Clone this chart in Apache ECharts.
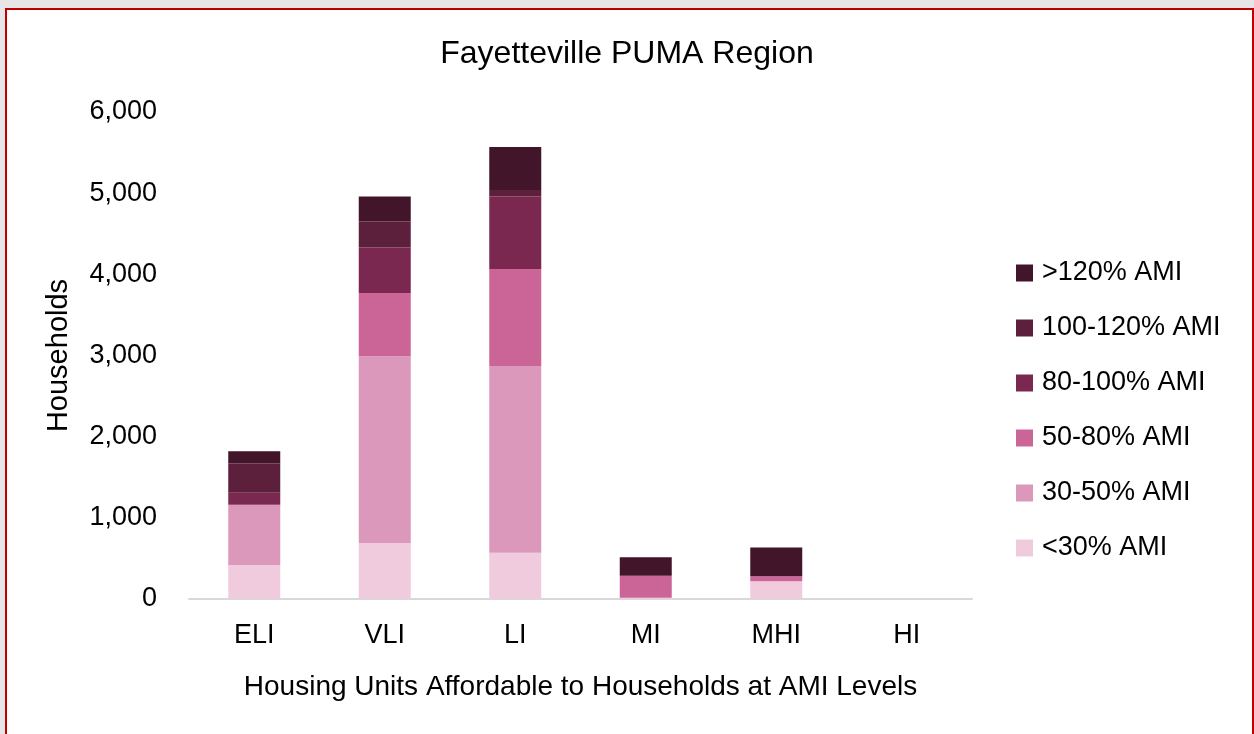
<!DOCTYPE html>
<html>
<head>
<meta charset="utf-8">
<title>Fayetteville PUMA Region</title>
<script src="https://cdn.jsdelivr.net/npm/echarts@6/dist/echarts.min.js"></script>
<style>
  html, body {
    margin: 0;
    padding: 0;
    background: #e6e6e6;
  }
  .frame {
    position: absolute;
    left: 5px;
    top: 8px;
    width: 1245px;
    height: 730px;
    background: #fff;
    border: 2px solid #c00000;
    border-bottom: none;
  }
  #chart {
    position: absolute;
    left: 0;
    top: 0;
    width: 1254px;
    height: 734px;
  }
</style>
</head>
<body>
<div class="frame"></div>
<div id="chart"></div>
<script>
// categories (housing units affordable at each AMI level)
const categories = ['ELI', 'VLI', 'LI', 'MI', 'MHI', 'HI']

// households by income band, stacked bottom to top
const lt30 = [420, 690, 570, 15, 220, 0]
const ami30to50 = [740, 2300, 2300, 0, 0, 0]
const ami50to80 = [0, 780, 1195, 270, 60, 0]
const ami80to100 = [150, 560, 895, 0, 0, 0]
const ami100to120 = [360, 320, 80, 0, 0, 0]
const gt120 = [150, 310, 530, 230, 355, 0]

const yTicks = [0, 1000, 2000, 3000, 4000, 5000, 6000]

const seriesList = [
  { name: '<30% AMI', data: lt30, color: '#f0cbdd' },
  { name: '30-50% AMI', data: ami30to50, color: '#dc98bb' },
  { name: '50-80% AMI', data: ami50to80, color: '#cb6497' },
  { name: '80-100% AMI', data: ami80to100, color: '#7b2851' },
  { name: '100-120% AMI', data: ami100to120, color: '#5c1f3c' },
  { name: '>120% AMI', data: gt120, color: '#42152b' }
]

const font = 'Liberation Sans, Arial, sans-serif'

const chart = echarts.init(document.getElementById('chart'))

const option = {
  backgroundColor: 'transparent',
  animation: false,
  title: {
    text: 'Fayetteville PUMA Region',
    left: 'center',
    top: 33,
    textStyle: {
      fontFamily: font,
      fontSize: 32,
      fontWeight: 'normal',
      color: '#000'
    }
  },
  legend: {
    orient: 'vertical',
    left: 1011,
    top: 253,
    itemWidth: 17,
    itemHeight: 17,
    itemGap: 25,
    icon: 'rect',
    data: seriesList.map(s => s.name).reverse(),
    textStyle: {
      fontFamily: font,
      fontSize: 27,
      lineHeight: 30,
      color: '#000',
      padding: [0, 0, 0, 4]
    }
  },
  grid: {
    left: 189,
    right: 282,
    top: 112,
    bottom: 135
  },
  xAxis: {
    type: 'category',
    data: categories,
    name: 'Housing Units Affordable to Households at AMI Levels',
    nameLocation: 'middle',
    nameGap: 74,
    nameTextStyle: {
      fontFamily: font,
      fontSize: 28,
      color: '#000'
    },
    axisLine: { lineStyle: { color: '#d9d9d9', width: 2 } },
    axisTick: { show: false },
    axisLabel: {
      margin: 23,
      fontFamily: font,
      fontSize: 27,
      color: '#000'
    }
  },
  yAxis: {
    type: 'value',
    min: yTicks[0],
    max: yTicks[yTicks.length - 1],
    interval: 1000,
    name: 'Households',
    nameLocation: 'middle',
    nameGap: 116,
    nameTextStyle: {
      fontFamily: font,
      fontSize: 29,
      color: '#000'
    },
    splitLine: { show: false },
    axisLine: { show: false },
    axisTick: { show: false },
    axisLabel: {
      margin: 32,
      fontFamily: font,
      fontSize: 27,
      color: '#000',
      formatter: v => v.toLocaleString('en-US')
    }
  },
  series: seriesList.map(s => ({
    name: s.name,
    type: 'bar',
    stack: 'total',
    barWidth: 52,
    data: s.data,
    itemStyle: { color: s.color }
  }))
}

chart.setOption(option)
</script>
</body>
</html>
